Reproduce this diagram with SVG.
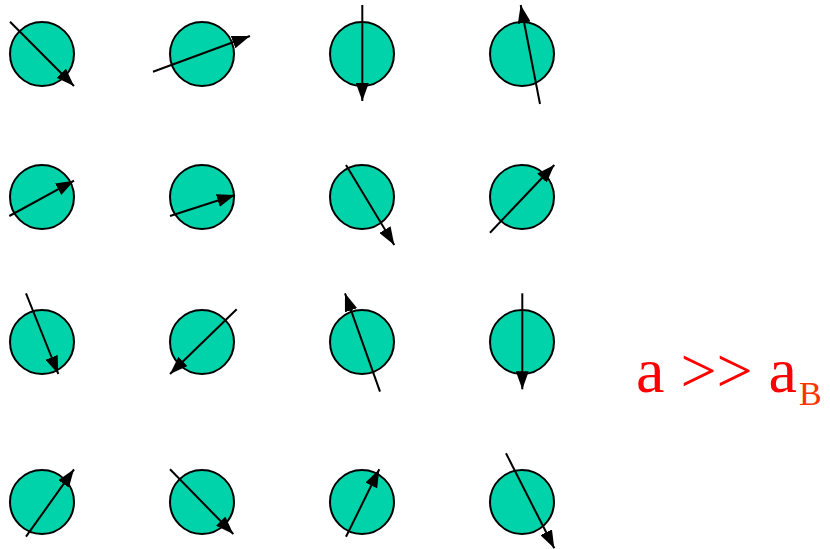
<svg xmlns="http://www.w3.org/2000/svg" width="830" height="549" viewBox="0 0 830 549">
<style>
.spin circle{fill:#00d2aa;stroke:#000;stroke-width:2}
.spin line{stroke:#000;stroke-width:2;marker-end:url(#ah)}
.lbl{font-family:"Liberation Serif","Times New Roman",serif;fill:#ff0000}
</style>
<defs>
<marker id="ah" markerUnits="userSpaceOnUse" viewBox="0 0 18 13" refX="18" refY="6.5" markerWidth="18" markerHeight="13" orient="auto">
<path d="M0,0 L18,6.5 L0,13 Z" fill="#000"/>
</marker>
</defs>
<rect width="830" height="549" fill="#fff"/>
<g id="s00" class="spin"><circle cx="42" cy="54" r="32"/><line x1="10" y1="21.7" x2="74" y2="86"/></g>
<g id="s01" class="spin"><circle cx="202" cy="54" r="32"/><line x1="153" y1="71.7" x2="250" y2="36"/></g>
<g id="s02" class="spin"><circle cx="362" cy="54" r="32"/><line x1="362.3" y1="5" x2="362.3" y2="101"/></g>
<g id="s03" class="spin"><circle cx="522" cy="54" r="32"/><line x1="540" y1="104" x2="520.7" y2="5"/></g>
<g id="s10" class="spin"><circle cx="42" cy="197" r="32"/><line x1="9.3" y1="216" x2="74" y2="180.7"/></g>
<g id="s11" class="spin"><circle cx="202" cy="197" r="32"/><line x1="170" y1="216" x2="235" y2="195"/></g>
<g id="s12" class="spin"><circle cx="362" cy="197" r="32"/><line x1="346" y1="165" x2="394.3" y2="245"/></g>
<g id="s13" class="spin"><circle cx="522" cy="197" r="32"/><line x1="490" y1="232.7" x2="554.3" y2="165"/></g>
<g id="s20" class="spin"><circle cx="42" cy="342" r="32"/><line x1="26" y1="293.3" x2="58.3" y2="374"/></g>
<g id="s21" class="spin"><circle cx="202" cy="342" r="32"/><line x1="236.7" y1="309.3" x2="170" y2="374"/></g>
<g id="s22" class="spin"><circle cx="362" cy="342" r="32"/><line x1="380" y1="391.7" x2="345" y2="293.3"/></g>
<g id="s23" class="spin"><circle cx="522" cy="342" r="32"/><line x1="522.3" y1="293.3" x2="522.3" y2="389.3"/></g>
<g id="s30" class="spin"><circle cx="42" cy="502" r="32"/><line x1="26" y1="536.7" x2="74" y2="469.3"/></g>
<g id="s31" class="spin"><circle cx="202" cy="502" r="32"/><line x1="170" y1="469.3" x2="233.3" y2="534"/></g>
<g id="s32" class="spin"><circle cx="362" cy="502" r="32"/><line x1="346" y1="536.7" x2="379.3" y2="469.3"/></g>
<g id="s33" class="spin"><circle cx="522" cy="502" r="32"/><line x1="506" y1="453.3" x2="554.3" y2="548.3"/></g>
<g id="label">
<text class="lbl" x="636" y="392" style="font-size:64px">a &gt;&gt; a</text>
<text class="lbl" x="799" y="405" style="font-size:34px;fill:#ff3300">B</text>
</g>
</svg>
